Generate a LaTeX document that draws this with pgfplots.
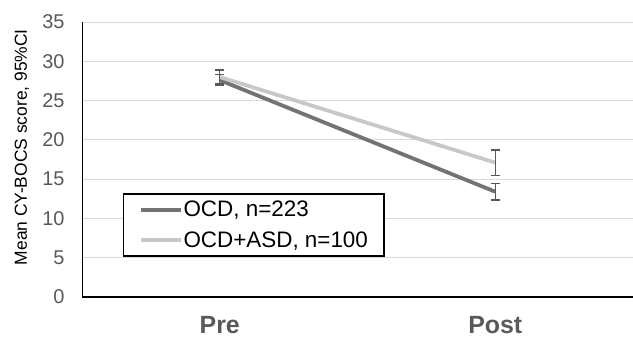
\documentclass[border=0pt]{standalone}
\usepackage{pgfplots}
\pgfplotsset{compat=1.18}
\usepackage{fontspec}
\setmainfont{Liberation Sans}
\definecolor{ocd}{HTML}{737373}
\definecolor{asd}{HTML}{C8C8C8}
\definecolor{tickc}{HTML}{595959}
\definecolor{gridc}{HTML}{D9D9D9}
\begin{document}
\begin{tikzpicture}[x=1bp,y=1bp]
\path[use as bounding box] (-82,-42) rectangle (551,297);
\begin{axis}[
  at={(0,0)}, anchor=south west,
  scale only axis, width=551bp, height=275bp,
  xmin=-0.5, xmax=1.5, ymin=0, ymax=35,
  xtick={0,1}, xticklabels={Pre,Post},
  ytick={0,5,...,35},
  axis x line=bottom, axis y line=left,
  axis line style={-, black},
  x axis line style={line width=1.5bp},
  y axis line style={line width=1bp},
  major tick length=0pt,
  xtick style={draw=none}, ytick style={draw=none},
  xmajorgrids=false, ymajorgrids=true, grid style={color=gridc, line width=1bp},
  /pgf/number format/assume math mode=true,
  yticklabel style={font=\fontsize{20}{24}\selectfont, text=tickc, anchor=east, xshift=-14bp},
  xticklabel style={font=\fontsize{25}{30}\selectfont\bfseries, text=tickc, anchor=base, yshift=-36.5bp},
  ylabel={Mean CY-BOCS score, 95\%CI},
  ylabel style={font=\fontsize{17.5}{20}\selectfont, at={(axis description cs:0,0.545)}, anchor=center, yshift=60bp},
  legend style={at={(0.0744,0.378)}, anchor=north west, draw=black, line width=1.5bp, fill=white,
    font=\fontsize{22.5}{26}\selectfont, inner xsep=15bp, inner ysep=5.5bp, row sep=9bp,
    nodes={inner xsep=1bp},
    cells={anchor=west}},
  legend image code/.code={\draw[#1] (0bp,0bp) -- (40bp,0bp);},
  error bars/y dir=both, error bars/y explicit,
  error bars/error bar style={color=tickc, line width=1.3bp},
  error bars/error mark options={rotate=90, mark size=4.5bp, color=tickc, line width=1.3bp},
]
\addplot[color=ocd, line width=3.8bp, mark=none] coordinates {
  (0,27.6) +- (0,0.7)
  (1,13.4) +- (0,1.05)
};
\addlegendentry{OCD, n=223}
\addplot[color=asd, line width=3.8bp, mark=none] coordinates {
  (0,28.0) +- (0,0.9)
  (1,17.1) +- (0,1.6)
};
\addlegendentry{OCD+ASD, n=100}
\end{axis}
\end{tikzpicture}
\end{document}
